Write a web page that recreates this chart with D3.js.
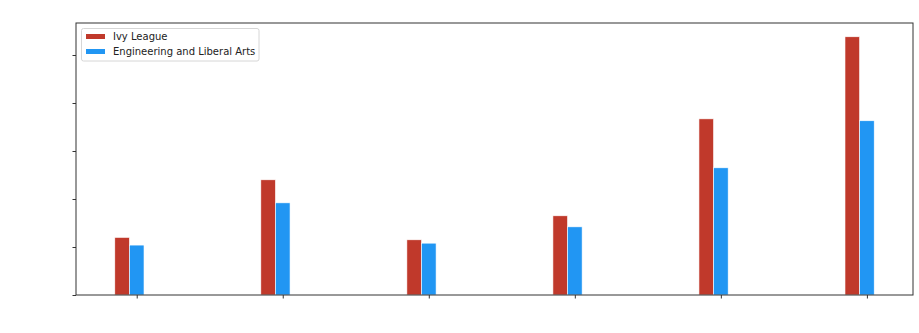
<!DOCTYPE html>
<html>
<head>
<meta charset="utf-8">
<script src="https://cdn.jsdelivr.net/npm/d3@7"></script>
<style>
  body { margin: 0; background: #fff; }
  text { font-family: "DejaVu Sans", sans-serif; }
</style>
</head>
<body>
<div id="chart"></div>
<script>
// groups along the x axis (labels are not visible in the picture)
const grupos = [0, 1, 2, 3, 4, 5];
const ivyLeague = [12.0, 24.0, 11.5, 16.5, 36.7, 53.8];
const engLiberal = [10.4, 19.2, 10.8, 14.2, 26.5, 36.3];
const yTicks = [0, 10, 20, 30, 40, 50];
const series = [
  { nome: "Ivy League", valores: ivyLeague, cor: "#c0392b", desloc: -1 },
  { nome: "Engineering and Liberal Arts", valores: engLiberal, cor: "#2196f3", desloc: 0 },
];

const width = 919;
const height = 333;
const margin = { top: 23, right: 6, bottom: 38, left: 76 };
const barW = 0.1;

const svg = d3
  .select("#chart")
  .append("svg")
  .attr("width", width)
  .attr("height", height);

const x = d3
  .scaleLinear()
  .domain([-0.4157, 5.3157])
  .range([margin.left, width - margin.right]);

const y = d3
  .scaleLinear()
  .domain([0, 56.67])
  .range([height - margin.bottom, margin.top]);

// bars
series.forEach((s) => {
  svg
    .append("g")
    .selectAll("rect")
    .data(grupos)
    .enter()
    .append("rect")
    .attr("x", (d) => x(d + s.desloc * barW - barW / 2))
    .attr("width", x(barW) - x(0))
    .attr("y", (d, i) => y(s.valores[i]))
    .attr("height", (d, i) => y(0) - y(s.valores[i]))
    .attr("fill", s.cor)
    .attr("stroke", "#fff")
    .attr("stroke-width", 0.6);
});

// axes
const xAxis = d3.axisBottom(x).tickValues(grupos).tickFormat("").tickSize(3.5).tickSizeOuter(0);
const yAxis = d3.axisLeft(y).tickValues(yTicks).tickFormat("").tickSize(3.5).tickSizeOuter(0);

svg
  .append("g")
  .attr("transform", `translate(0,${height - margin.bottom})`)
  .call(xAxis)
  .call((g) => g.selectAll("line").attr("stroke", "#333"))
  .call((g) => g.select(".domain").remove());

svg
  .append("g")
  .attr("transform", `translate(${margin.left},0)`)
  .call(yAxis)
  .call((g) => g.selectAll("line").attr("stroke", "#333"))
  .call((g) => g.select(".domain").remove());

// frame
svg
  .append("rect")
  .attr("x", margin.left)
  .attr("y", margin.top)
  .attr("width", width - margin.left - margin.right)
  .attr("height", height - margin.top - margin.bottom)
  .attr("fill", "none")
  .attr("stroke", "#333")
  .attr("stroke-width", 1);

// legend
const legenda = svg.append("g").attr("transform", "translate(81.5,28.5)");
legenda
  .append("rect")
  .attr("width", 177.5)
  .attr("height", 32.5)
  .attr("rx", 2)
  .attr("fill", "#fff")
  .attr("stroke", "#d6d6d6");

const item = legenda
  .selectAll(".item")
  .data(series)
  .enter()
  .append("g")
  .attr("class", "item")
  .attr("transform", (d, i) => `translate(0,${i * 15})`);

item
  .append("rect")
  .attr("x", 4.5)
  .attr("y", 5.5)
  .attr("width", 19)
  .attr("height", 5)
  .attr("fill", (d) => d.cor);

item
  .append("text")
  .attr("x", 31.5)
  .attr("y", 8)
  .attr("dy", "0.35em")
  .attr("font-size", "10px")
  .attr("fill", "#222")
  .text((d) => d.nome);
</script>
</body>
</html>
